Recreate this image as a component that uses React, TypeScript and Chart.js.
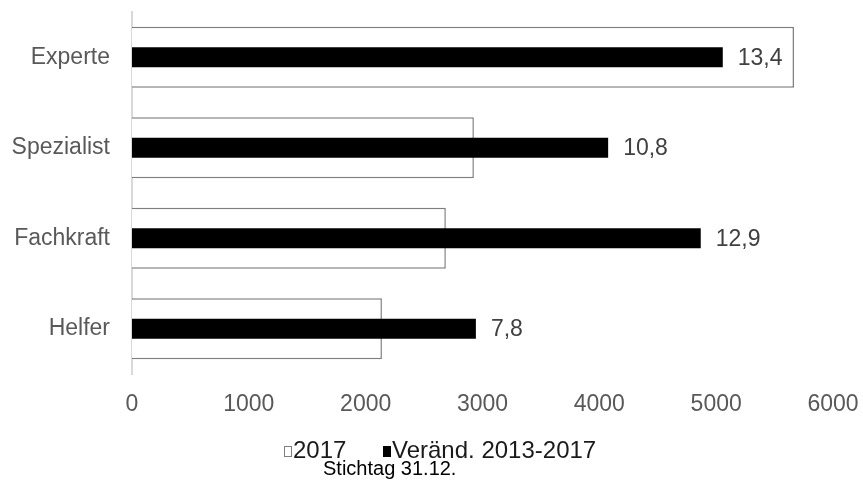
import React, { useEffect, useRef } from "react";
import { Chart, registerables } from "chart.js";

Chart.register(...registerables);

const categories = ["Experte", "Spezialist", "Fachkraft", "Helfer"];
const values2017 = [5666, 2926, 2686, 2139];
const changePct = [13.4, 10.8, 12.9, 7.8];
const xTicks = [0, 1000, 2000, 3000, 4000, 5000, 6000];
const legendLabels = ["2017", "Veränd. 2013-2017"];
const footnote = "Stichtag 31.12.";

const FONT = "'Liberation Sans', Arial, sans-serif";

const labelPlugin = {
  id: "valueLabels",
  afterDatasetsDraw(chart: any) {
    const ctx = chart.ctx;
    const meta = chart.getDatasetMeta(1);
    ctx.save();
    ctx.font = `23px ${FONT}`;
    ctx.fillStyle = "#404040";
    ctx.textAlign = "left";
    ctx.textBaseline = "middle";
    meta.data.forEach((bar: any, i: number) => {
      const txt = changePct[i].toFixed(1).replace(".", ",");
      ctx.fillText(txt, bar.x + 15, bar.y + 1);
    });
    ctx.restore();
  },
};

const legendPlugin = {
  id: "customLegend",
  afterDraw(chart: any) {
    const ctx = chart.ctx;
    ctx.save();
    ctx.font = `24px ${FONT}`;
    ctx.textBaseline = "alphabetic";
    ctx.textAlign = "left";
    const baseY = 458;
    let x = 284;
    ctx.fillStyle = "#ffffff";
    ctx.fillRect(x, 446, 8, 11);
    ctx.strokeStyle = "#7f7f7f";
    ctx.lineWidth = 1;
    ctx.strokeRect(x + 0.5, 446.5, 7, 10);
    ctx.fillStyle = "#1a1a1a";
    ctx.fillText(legendLabels[0], x + 9, baseY);
    x = 383;
    ctx.fillStyle = "#000000";
    ctx.fillRect(x, 446, 8, 11);
    ctx.fillStyle = "#1a1a1a";
    ctx.fillText(legendLabels[1], x + 9, baseY);
    ctx.font = `20px ${FONT}`;
    ctx.fillStyle = "#000000";
    ctx.fillText(footnote, 323, 475);
    ctx.restore();
  },
};

export default function App() {
  const ref = useRef<HTMLCanvasElement | null>(null);

  useEffect(() => {
    document.body.style.margin = "0";
    const canvas = ref.current;
    if (!canvas) return;
    const chart = new Chart(canvas, {
      type: "bar",
      data: {
        labels: categories,
        datasets: [
          {
            label: legendLabels[0],
            data: values2017,
            xAxisID: "x",
            backgroundColor: "#ffffff",
            borderColor: "#7f7f7f",
            borderWidth: 1.5,
            barPercentage: 0.674,
            categoryPercentage: 1,
            grouped: false,
            order: 2,
          },
          {
            label: legendLabels[1],
            data: changePct,
            xAxisID: "x2",
            backgroundColor: "#000000",
            borderWidth: 0,
            barPercentage: 0.221,
            categoryPercentage: 1,
            grouped: false,
            order: 1,
          },
        ],
      },
      options: {
        indexAxis: "y",
        responsive: false,
        animation: false,
        layout: { padding: { left: 0, right: 30, top: 12, bottom: 73 } },
        plugins: {
          legend: { display: false },
          tooltip: { enabled: false },
          title: { display: false },
        },
        scales: {
          x: {
            type: "linear",
            position: "bottom",
            min: 0,
            max: 6000,
            afterBuildTicks: (scale: any) => {
              scale.ticks = xTicks.map((v) => ({ value: v }));
            },
            afterFit: (scale: any) => {
              scale.paddingLeft = 0;
              scale.paddingRight = 0;
              scale.height = 45;
            },
            grid: { display: false, drawTicks: false },
            border: { display: false },
            ticks: {
              padding: 17,
              color: "#595959",
              font: { family: FONT, size: 23 },
              maxRotation: 0,
              callback: (v: any) => String(v),
            },
          },
          x2: {
            type: "linear",
            position: "top",
            display: false,
            min: 0,
            max: 15.9,
            grid: { display: false },
          },
          y: {
            type: "category",
            position: "left",
            grid: { display: false, drawTicks: false },
            border: { display: true, color: "#d9d9d9", width: 2 },
            ticks: {
              padding: 22,
              color: "#595959",
              font: { family: FONT, size: 23 },
            },
            afterFit: (scale: any) => {
              scale.width = 132;
              scale.paddingTop = 0;
              scale.paddingBottom = 0;
            },
          },
        },
      },
      plugins: [labelPlugin, legendPlugin],
    } as any);
    return () => chart.destroy();
  }, []);

  return (
    <div style={{ width: 863, height: 492 }}>
      <canvas ref={ref} width={863} height={492} style={{ display: "block" }} />
    </div>
  );
}
